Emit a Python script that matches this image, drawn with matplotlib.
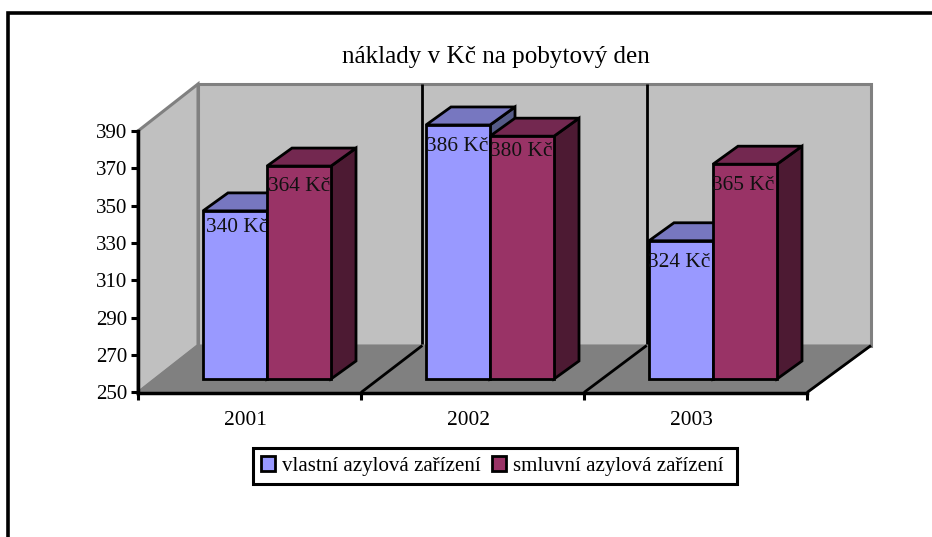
import numpy as np
import matplotlib
matplotlib.use('Agg')
import matplotlib.pyplot as plt
from matplotlib.patches import Polygon, Patch, Rectangle
from matplotlib.lines import Line2D

''' ==== data ==== '''
years = ['2001', '2002', '2003']
vlastni = [340, 386, 324]
smluvni = [364, 380, 365]
yticks = [250, 270, 290, 310, 330, 350, 370, 390]
title = 'náklady v Kč na pobytový den'
names = ['vlastní azylová zařízení', 'smluvní azylová zařízení']

''' ==== settings ==== '''
plt.rcParams['font.family'] = ['Liberation Serif', 'DejaVu Serif']
W, H = 932, 537
col_blue = ['#9999FF', '#7777C0', '#555B88']     # front, top, side
col_plum = ['#993366', '#732850', '#4D1A33']
wall = '#C0C0C0'
floor = '#808080'
edge = '#808080'

fig = plt.figure(figsize=(W/100, H/100), dpi=100, facecolor='white')
# axes = front plane of the box
x0, x1 = 138, 807
ytop, ybot = 131, 392.5
ax = fig.add_axes([x0/W, 1-ybot/H, (x1-x0)/W, (ybot-ytop)/H])
ax.set_xlim(0, 3)
ax.set_ylim(250, 390)
ax.patch.set_visible(False)

# px -> data units
ux = 3/(x1-x0)
uy = 140/(ybot-ytop)
box_dy = 47*uy                     # depth of box
back_x = (198-x0)*ux + np.arange(4)*(673/3)*ux   # back wall is a bit wider than the front
bar_dx, bar_dy = 25*ux, 18*uy      # depth of bars
lift_dx, lift_dy = 19*ux, 13.5*uy  # front of bars behind the axis plane
bw = 64*ux
gap = 46*ux


def poly(pts, fc, ec, lw, z):
    ax.add_patch(Polygon(pts, closed=True, fc=fc, ec=ec, lw=lw, zorder=z,
                         clip_on=False, joinstyle='miter'))


# walls and floor
yb, yt = 250+box_dy, 390+box_dy
poly([(back_x[0], yb), (back_x[3], yb), (back_x[3], yt), (back_x[0], yt)], wall, edge, 2.2, 1)
poly([(0, 250), (back_x[0], yb), (back_x[0], yt), (0, 390)], wall, edge, 2.2, 1)
poly([(0, 250), (3, 250), (back_x[3], yb), (back_x[0], yb)], floor, edge, 1.5, 1.5)

# category dividers
for i in [1, 2, 3]:
    ax.plot([i, back_x[i]], [250, yb], color='k', lw=2, zorder=2, clip_on=False, solid_capstyle='butt')
    if i < 3:
        ax.plot([back_x[i], back_x[i]], [yb, yt], color='k', lw=2, zorder=1.1, clip_on=False, solid_capstyle='butt')

# bars, series by series so the plum one overlaps the blue one
xpos = np.arange(3) + lift_dx + gap
base = 250 + lift_dy
label_dx = [[2, -1, -2], [0, -1, -2]]
label_dy = [[16.5, 22, 21.5], [20.5, 15.5, 21]]
z = 3
for s, (vals, cols) in enumerate([(vlastni, col_blue), (smluvni, col_plum)]):
    xs = xpos + s*bw
    for i, v in enumerate(vals):
        l, r = xs[i], xs[i]+bw
        top = v + lift_dy
        poly([(r, base), (r+bar_dx, base+bar_dy), (r+bar_dx, top+bar_dy), (r, top)], cols[2], 'k', 2, z)
        poly([(l, top), (r, top), (r+bar_dx, top+bar_dy), (l+bar_dx, top+bar_dy)], cols[1], 'k', 2, z)
        ax.bar(l, top-base, width=bw, bottom=base, align='edge', color=cols[0], edgecolor='k', lw=2, zorder=z, clip_on=False)
        ax.text((l+r)/2+label_dx[s][i]*ux, top-label_dy[s][i]*uy, str(v)+' Kč', ha='center', va='center',
                fontsize=15.4, color='#111111', zorder=z+0.5, clip_on=False)
        z += 1

# axes look
for sp in ['top', 'right']:
    ax.spines[sp].set_visible(False)
for sp in ['left', 'bottom']:
    ax.spines[sp].set_linewidth(2.5)
    ax.spines[sp].set_zorder(30)
ax.set_yticks(yticks)
ax.set_xticks([0, 1, 2, 3])
ax.set_xticklabels([])
ax.tick_params(axis='both', width=2.2, length=5, labelsize=15, pad=3)
ax.tick_params(axis='y', direction='out')
for i, yr in enumerate(years):
    ax.text(i+0.48, 250-28*uy, yr, ha='center', va='center', fontsize=15.4, color='k')

# outer frame of the picture, only top and left are inside
fig.add_artist(Line2D([7.5/W, 7.5/W, 1], [0, 1-12.5/H, 1-12.5/H], color='k', lw=2.6, solid_joinstyle='miter'))

fig.text(495.5/W, 1-57/H, title, ha='center', va='center', fontsize=18.1, color='k')

# legend box drawn apart, its padding is not even on both sides
fig.add_artist(Rectangle((253.5/W, 1-484/H), 483.5/W, 36/H, fc='white', ec='k', lw=2.2, transform=fig.transFigure))
handles = [Patch(fc=col_blue[0], ec='k', lw=2), Patch(fc=col_plum[0], ec='k', lw=2)]
leg = fig.legend(handles, names, loc='center left', bbox_to_anchor=(261/W, 1-466/H), ncol=2, fontsize=15.15,
                 frameon=False, borderpad=0, handlelength=0.68, handleheight=0.72,
                 handletextpad=0.3, columnspacing=0.55, borderaxespad=0)

plt.savefig('out.png', dpi=100)
plt.close()
